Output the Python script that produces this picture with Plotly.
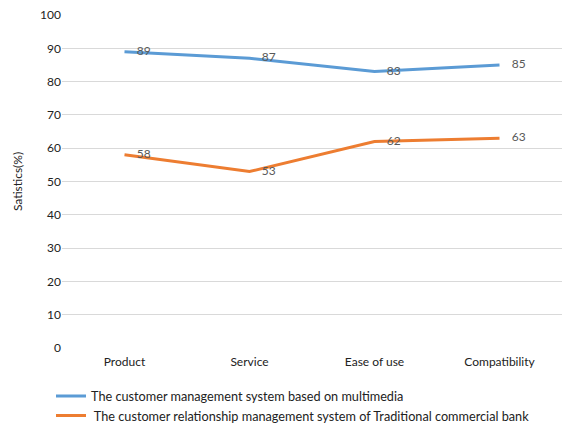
import plotly.graph_objects as go

categories = ["Product", "Service", "Ease of use", "Compatibility"]
multimedia = [89, 87, 83, 85]
traditional = [58, 53, 62, 63]
names = ["The customer management system based on multimedia",
         " The customer relationship management system of Traditional commercial bank"]
y_ticks = [0, 10, 20, 30, 40, 50, 60, 70, 80, 90, 100]

FONT = "Lato"
fig = go.Figure()
for vals, name, color in [(multimedia, names[0], "#5B9BD5"), (traditional, names[1], "#ED7D31")]:
    fig.add_trace(go.Scatter(
        x=categories, y=vals, name=name, mode="lines+text",
        line=dict(color=color, width=3),
        text=[str(v) for v in vals], texttemplate="    %{text}",
        textposition="middle right",
        textfont=dict(family=FONT, size=12, color="#595959"),
        cliponaxis=False,
    ))

fig.update_layout(
    width=566, height=425,
    margin=dict(l=62, r=4, t=15, b=77, autoexpand=False),
    paper_bgcolor="white", plot_bgcolor="white",
    font=dict(family=FONT, size=12, color="#222222"),
    xaxis=dict(showgrid=False, showline=False, zeroline=False, ticks="",
               range=[-0.5, 3.5], tickfont=dict(size=12), ticklabelstandoff=5),
    yaxis=dict(range=[0, 100], tickvals=y_ticks, showgrid=True, gridcolor="#d9d9d9",
               gridwidth=1, zeroline=False, showline=False, ticks="",
               title=dict(text="Satistics(%)", font=dict(size=12), standoff=14),
               tickfont=dict(size=12)),
    legend=dict(orientation="v", x=-0.022, xanchor="left", y=-0.1, yanchor="top",
                font=dict(size=12.7, color="#222222"), tracegroupgap=0, itemwidth=30,
                bgcolor="rgba(0,0,0,0)"),
    showlegend=True,
)
fig.write_html("out.html")
